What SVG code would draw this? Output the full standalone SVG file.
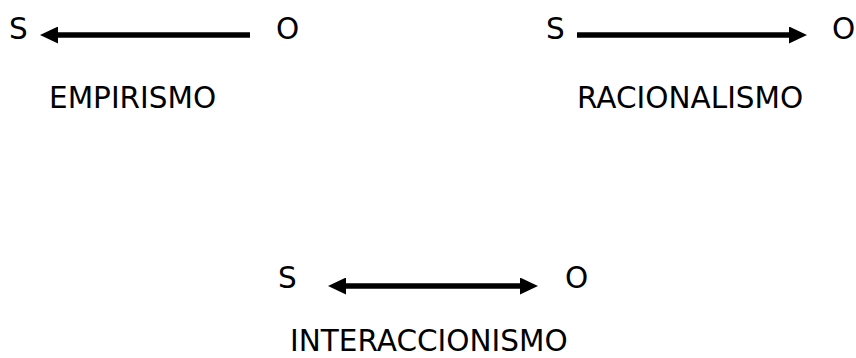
<svg xmlns="http://www.w3.org/2000/svg" width="856" height="358" viewBox="0 0 856 358">
  <style>
    text { font-family: "DejaVu Sans", Verdana, sans-serif; font-size: 29.5px; fill: #000; }
    .conn { stroke: #000; stroke-width: 5.5; fill: none; }
  </style>
  <defs>
    <marker id="head" viewBox="0 -8.5 18 17" refX="1" refY="0" markerWidth="18" markerHeight="17" markerUnits="userSpaceOnUse" orient="auto-start-reverse">
      <path d="M0,-8.5 L18,0 L0,8.5 Z" fill="#000"/>
    </marker>
  </defs>
  <rect width="856" height="358" fill="#fff"/>

  <g id="empirismo">
    <text x="9" y="39">S</text>
    <text x="276" y="39">O</text>
    <text x="49" y="108">EMPIRISMO</text>
  </g>

  <g id="racionalismo">
    <text x="546" y="39">S</text>
    <text x="832" y="39">O</text>
    <text x="577" y="108">RACIONALISMO</text>
  </g>

  <g id="interaccionismo">
    <text x="278" y="288">S</text>
    <text x="565" y="288">O</text>
    <text x="290" y="350.5">INTERACCIONISMO</text>
  </g>

  <g id="connectors">
    <line class="conn" x1="250" y1="35" x2="57" y2="35" marker-end="url(#head)"/>
    <line class="conn" x1="577" y1="35" x2="790" y2="35" marker-end="url(#head)"/>
    <line class="conn" x1="345" y1="286" x2="521" y2="286" marker-start="url(#head)" marker-end="url(#head)"/>
  </g>
</svg>
